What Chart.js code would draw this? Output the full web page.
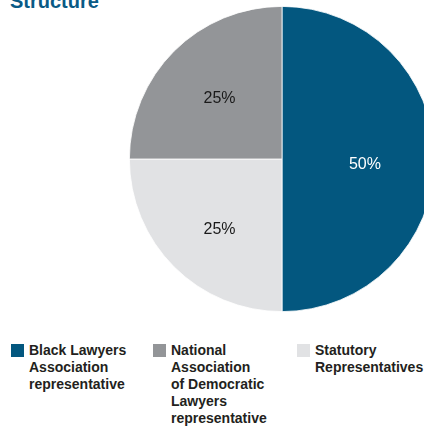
<!DOCTYPE html>
<html>
<head>
<meta charset="utf-8">
<script src="https://cdn.jsdelivr.net/npm/chart.js@4/dist/chart.umd.min.js"></script>
<style>
  html, body { margin: 0; padding: 0; background: #fff; overflow: hidden; width: 424px; height: 427px; }
  body { position: relative; font-family: "Liberation Sans", Arial, sans-serif; }
  #title { position: absolute; left: 10px; top: -9px; font-size: 20px; line-height: 20px; font-weight: bold; color: #0a5a85; white-space: nowrap; }
  #pieBox { position: absolute; left: 129px; top: 6px; width: 306px; height: 306px; }
  #legend { position: absolute; left: 0; top: 342px; width: 424px; }
  .item { position: absolute; top: 0; }
  .swatch { position: absolute; left: 0; top: 2px; width: 13px; height: 13px; }
  .text { position: absolute; left: 18px; top: 0; font-size: 14px; line-height: 17px; font-weight: bold; color: #231f20; white-space: nowrap; }
</style>
</head>
<body>
<div id="title">Structure</div>
<div id="pieBox"><canvas id="pie"></canvas></div>
<div id="legend"></div>
<script>
// legend order
var categories = [
  ["Black Lawyers", "Association", "representative"],
  ["National", "Association", "of Democratic", "Lawyers", "representative"],
  ["Statutory", "Representatives"]
];
var shares = [50, 25, 25];
var colors = ["#03577f", "#939598", "#e1e2e4"];
var labelColors = ["#ffffff", "#1a1a1a", "#1a1a1a"];

// clockwise from the top: right half, then bottom-left, then top-left
var sliceOrder = [0, 2, 1];

var pick = function(arr) {
  return sliceOrder.map(function(i) { return arr[i]; });
};

var sliceLabels = {
  id: "sliceLabels",
  afterDatasetsDraw: function(chart) {
    var ctx = chart.ctx;
    var meta = chart.getDatasetMeta(0);
    var ds = chart.data.datasets[0];
    var nudge = [[-4, 6], [-1, 9], [-1, 1]];
    ctx.save();
    ctx.font = "16px 'Liberation Sans', Arial, sans-serif";
    ctx.textAlign = "center";
    ctx.textBaseline = "middle";
    meta.data.forEach(function(arc, i) {
      var p = arc.getProps(["x", "y", "startAngle", "endAngle", "outerRadius"], true);
      var mid = (p.startAngle + p.endAngle) / 2;
      var r = p.outerRadius * 0.57;
      ctx.fillStyle = ds.labelColors[i];
      ctx.fillText(ds.data[i] + "%", p.x + Math.cos(mid) * r + nudge[i][0], p.y + Math.sin(mid) * r + nudge[i][1]);
    });
    ctx.restore();
  }
};

new Chart(document.getElementById("pie"), {
  type: "pie",
  data: {
    labels: pick(categories).map(function(c) { return c.join(" "); }),
    datasets: [{
      data: pick(shares),
      backgroundColor: pick(colors),
      labelColors: pick(labelColors),
      borderColor: "#ffffff",
      borderWidth: 0.8
    }]
  },
  options: {
    responsive: true,
    maintainAspectRatio: false,
    animation: false,
    layout: { padding: 0 },
    plugins: {
      legend: { display: false },
      tooltip: { enabled: false }
    }
  },
  plugins: [sliceLabels]
});

// html legend, built from the same arrays
var legendX = [11, 153, 297];
var legend = document.getElementById("legend");
categories.forEach(function(lines, i) {
  var item = document.createElement("div");
  item.className = "item";
  item.style.left = legendX[i] + "px";
  var sw = document.createElement("div");
  sw.className = "swatch";
  sw.style.background = colors[i];
  var tx = document.createElement("div");
  tx.className = "text";
  tx.innerHTML = lines.join("<br>");
  item.appendChild(sw);
  item.appendChild(tx);
  legend.appendChild(item);
});
</script>
</body>
</html>
